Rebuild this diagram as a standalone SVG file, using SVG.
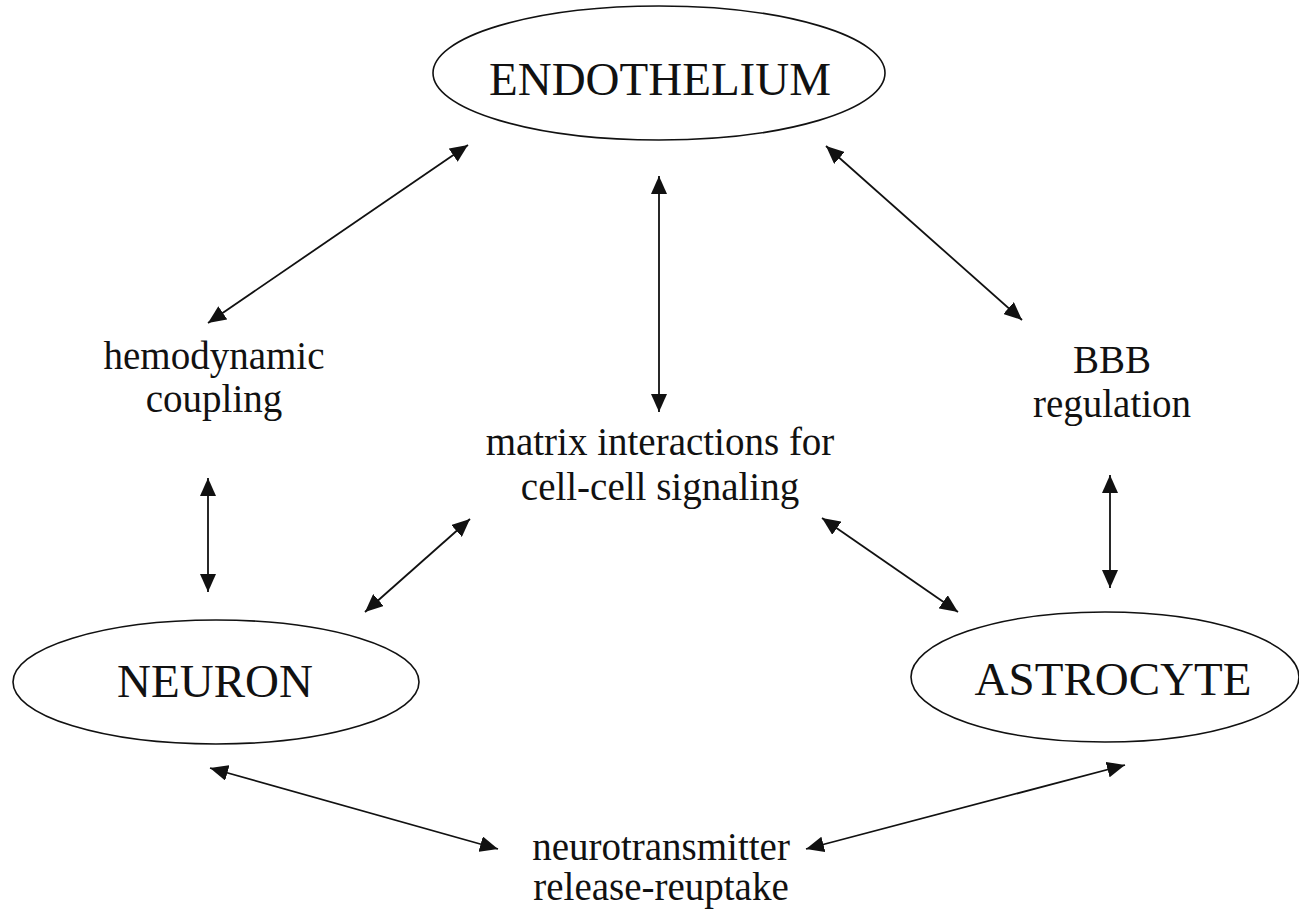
<svg xmlns="http://www.w3.org/2000/svg" width="1299" height="915" viewBox="0 0 1299 915">
<style>
.node{fill:#fff;stroke:#111;stroke-width:1.6}
.nt{font-family:"Liberation Serif","Times New Roman",serif;font-size:47px;fill:#111;text-anchor:middle}
.lt{font-family:"Liberation Serif","Times New Roman",serif;font-size:39px;fill:#111;text-anchor:middle}
.c{stroke:#111;stroke-width:1.8;fill:none;marker-start:url(#ah);marker-end:url(#ah)}
</style>
<defs>
<marker id="ah" markerUnits="userSpaceOnUse" markerWidth="20" markerHeight="16" refX="18" refY="8" orient="auto-start-reverse">
<path d="M0,0 L18,8 L0,16 Z" fill="#111"/>
</marker>
</defs>
<rect width="1299" height="915" fill="#fff"/>
<g id="endothelium">
<ellipse class="node" cx="659" cy="73" rx="226" ry="67"/>
<text class="nt" x="660" y="95">ENDOTHELIUM</text>
</g>
<g id="neuron">
<ellipse class="node" cx="216" cy="682" rx="203" ry="62"/>
<text class="nt" x="215" y="697">NEURON</text>
</g>
<g id="astrocyte">
<ellipse class="node" cx="1105" cy="677" rx="194" ry="65"/>
<text class="nt" x="1113" y="695">ASTROCYTE</text>
</g>
<g id="hemodynamic">
<text class="lt" x="214" y="369">hemodynamic</text>
<text class="lt" x="214" y="412">coupling</text>
</g>
<g id="matrix">
<text class="lt" x="660" y="455">matrix interactions for</text>
<text class="lt" x="660" y="500">cell-cell signaling</text>
</g>
<g id="bbb">
<text class="lt" x="1112" y="373">BBB</text>
<text class="lt" x="1112" y="417">regulation</text>
</g>
<g id="neurotransmitter">
<text class="lt" x="661" y="860">neurotransmitter</text>
<text class="lt" x="661" y="900">release-reuptake</text>
</g>
<g id="connectors">
<line class="c" x1="208" y1="323" x2="468" y2="145"/>
<line class="c" x1="659" y1="176" x2="659" y2="412"/>
<line class="c" x1="826" y1="146" x2="1022" y2="320"/>
<line class="c" x1="208" y1="478" x2="208" y2="592"/>
<line class="c" x1="1110" y1="475" x2="1110" y2="588"/>
<line class="c" x1="365" y1="612" x2="470" y2="519"/>
<line class="c" x1="822" y1="518" x2="958" y2="612"/>
<line class="c" x1="210" y1="768" x2="498" y2="849"/>
<line class="c" x1="806" y1="849" x2="1125" y2="765"/>
</g>
</svg>
